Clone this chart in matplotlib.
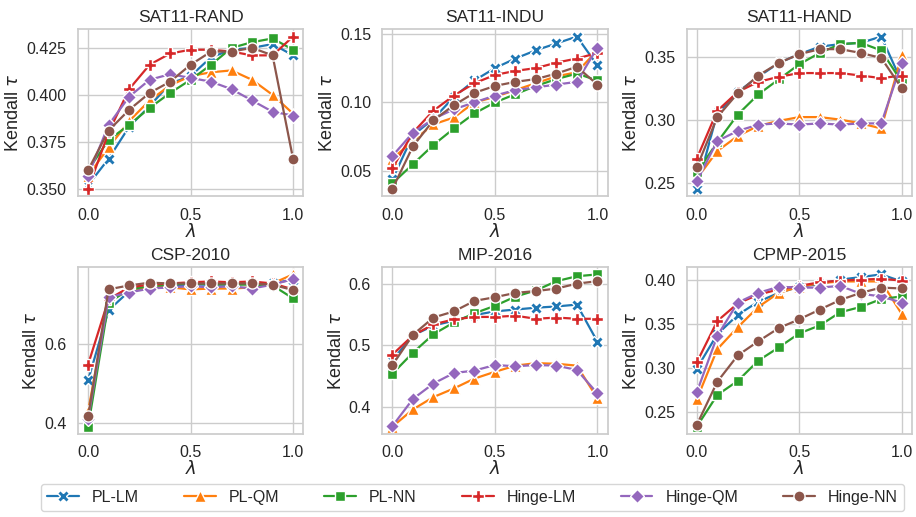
import matplotlib
matplotlib.use("Agg")
import matplotlib.pyplot as plt
import seaborn as sns

sns.set_theme(style="whitegrid", context="notebook")
plt.rcParams["font.family"] = ["Liberation Sans", "DejaVu Sans"]

LAMBDAS = [0.0, 0.1, 0.2, 0.3, 0.4, 0.5, 0.6, 0.7, 0.8, 0.9, 1.0]
METHODS = ["PL-LM", "PL-QM", "PL-NN", "Hinge-LM", "Hinge-QM", "Hinge-NN"]
SCENARIOS = ["SAT11-RAND", "SAT11-INDU", "SAT11-HAND", "CSP-2010", "MIP-2016", "CPMP-2015"]

SAT11_RAND = {
    "PL-LM":    [0.352, 0.366, 0.383, 0.394, 0.406, 0.410, 0.420, 0.424, 0.425, 0.427, 0.421],
    "PL-QM":    [0.357, 0.372, 0.386, 0.397, 0.405, 0.410, 0.412, 0.413, 0.408, 0.400, 0.390],
    "PL-NN":    [0.360, 0.376, 0.384, 0.393, 0.401, 0.408, 0.416, 0.425, 0.428, 0.430, 0.424],
    "Hinge-LM": [0.350, 0.380, 0.403, 0.416, 0.422, 0.424, 0.424, 0.423, 0.421, 0.421, 0.431],
    "Hinge-QM": [0.357, 0.384, 0.399, 0.408, 0.411, 0.409, 0.407, 0.403, 0.397, 0.391, 0.389],
    "Hinge-NN": [0.360, 0.381, 0.392, 0.401, 0.407, 0.416, 0.423, 0.423, 0.425, 0.421, 0.366],
}
SAT11_INDU = {
    "PL-LM":    [0.044, 0.076, 0.088, 0.104, 0.116, 0.125, 0.132, 0.138, 0.143, 0.148, 0.127],
    "PL-QM":    [0.059, 0.072, 0.084, 0.089, 0.100, 0.104, 0.109, 0.114, 0.119, 0.122, 0.138],
    "PL-NN":    [0.041, 0.055, 0.069, 0.081, 0.092, 0.100, 0.106, 0.112, 0.117, 0.121, 0.116],
    "Hinge-LM": [0.052, 0.078, 0.094, 0.105, 0.114, 0.120, 0.123, 0.125, 0.129, 0.132, 0.136],
    "Hinge-QM": [0.061, 0.078, 0.088, 0.095, 0.100, 0.105, 0.109, 0.111, 0.113, 0.115, 0.140],
    "Hinge-NN": [0.037, 0.068, 0.087, 0.098, 0.107, 0.112, 0.115, 0.117, 0.121, 0.126, 0.113],
}
SAT11_HAND = {
    "PL-LM":    [0.245, 0.305, 0.322, 0.334, 0.345, 0.352, 0.358, 0.360, 0.361, 0.366, 0.330],
    "PL-QM":    [0.253, 0.275, 0.287, 0.295, 0.299, 0.302, 0.302, 0.300, 0.297, 0.293, 0.351],
    "PL-NN":    [0.258, 0.282, 0.304, 0.320, 0.332, 0.344, 0.353, 0.360, 0.361, 0.355, 0.330],
    "Hinge-LM": [0.269, 0.307, 0.322, 0.330, 0.334, 0.337, 0.337, 0.337, 0.335, 0.333, 0.335],
    "Hinge-QM": [0.251, 0.283, 0.291, 0.296, 0.297, 0.296, 0.297, 0.296, 0.297, 0.297, 0.345],
    "Hinge-NN": [0.262, 0.302, 0.321, 0.335, 0.345, 0.352, 0.356, 0.356, 0.353, 0.349, 0.325],
}
CSP_2010 = {
    "PL-LM":    [0.509, 0.687, 0.735, 0.745, 0.750, 0.752, 0.752, 0.752, 0.755, 0.755, 0.765],
    "PL-QM":    [0.430, 0.710, 0.740, 0.745, 0.745, 0.740, 0.742, 0.742, 0.745, 0.755, 0.778],
    "PL-NN":    [0.391, 0.706, 0.740, 0.748, 0.752, 0.755, 0.753, 0.752, 0.752, 0.750, 0.717],
    "Hinge-LM": [0.549, 0.715, 0.745, 0.752, 0.755, 0.758, 0.760, 0.758, 0.760, 0.755, 0.740],
    "Hinge-QM": [0.410, 0.720, 0.732, 0.742, 0.745, 0.748, 0.745, 0.748, 0.742, 0.752, 0.766],
    "Hinge-NN": [0.417, 0.740, 0.750, 0.757, 0.755, 0.755, 0.755, 0.755, 0.755, 0.752, 0.738],
}
MIP_2016 = {
    "PL-LM":    [0.476, 0.516, 0.532, 0.540, 0.549, 0.555, 0.558, 0.561, 0.563, 0.566, 0.506],
    "PL-QM":    [0.368, 0.396, 0.416, 0.430, 0.446, 0.457, 0.467, 0.471, 0.470, 0.467, 0.414],
    "PL-NN":    [0.454, 0.488, 0.518, 0.537, 0.552, 0.564, 0.579, 0.589, 0.604, 0.612, 0.615],
    "Hinge-LM": [0.485, 0.516, 0.534, 0.542, 0.546, 0.546, 0.548, 0.543, 0.545, 0.543, 0.543],
    "Hinge-QM": [0.369, 0.413, 0.438, 0.455, 0.459, 0.468, 0.466, 0.468, 0.467, 0.460, 0.422],
    "Hinge-NN": [0.468, 0.517, 0.545, 0.555, 0.572, 0.578, 0.585, 0.588, 0.592, 0.600, 0.604],
}
CPMP_2015 = {
    "PL-LM":    [0.299, 0.338, 0.360, 0.375, 0.385, 0.392, 0.395, 0.400, 0.403, 0.406, 0.398],
    "PL-QM":    [0.264, 0.321, 0.346, 0.369, 0.385, 0.392, 0.396, 0.398, 0.398, 0.398, 0.361],
    "PL-NN":    [0.233, 0.269, 0.285, 0.308, 0.323, 0.339, 0.348, 0.363, 0.369, 0.378, 0.381],
    "Hinge-LM": [0.306, 0.353, 0.373, 0.383, 0.389, 0.393, 0.397, 0.399, 0.400, 0.401, 0.399],
    "Hinge-QM": [0.272, 0.336, 0.374, 0.385, 0.392, 0.391, 0.391, 0.393, 0.384, 0.381, 0.374],
    "Hinge-NN": [0.235, 0.284, 0.314, 0.330, 0.345, 0.355, 0.366, 0.377, 0.385, 0.391, 0.390],
}
SCENARIO_DATA = [SAT11_RAND, SAT11_INDU, SAT11_HAND, CSP_2010, MIP_2016, CPMP_2015]

Y_TICKS = [
    [0.350, 0.375, 0.400, 0.425],
    [0.05, 0.10, 0.15],
    [0.25, 0.30, 0.35],
    [0.4, 0.6],
    [0.4, 0.5, 0.6],
    [0.25, 0.30, 0.35, 0.40],
]
Y_FMT = ["{:.3f}", "{:.2f}", "{:.2f}", "{:.1f}", "{:.1f}", "{:.2f}"]

COLORS = dict(zip(METHODS, sns.color_palette("tab10", 6)))
MARKERS = {"PL-LM": "X", "PL-QM": "^", "PL-NN": "s",
           "Hinge-LM": "P", "Hinge-QM": "D", "Hinge-NN": "o"}
MSIZE = {"PL-LM": 8, "PL-QM": 8, "PL-NN": 7.5,
         "Hinge-LM": 8.5, "Hinge-QM": 7, "Hinge-NN": 8}

fig, axs = plt.subplots(2, 3, figsize=(9.16, 5.17), dpi=100)
fig.subplots_adjust(left=0.085, right=0.9956, top=0.944, bottom=0.16,
                    wspace=0.35, hspace=0.42)

for ax, name, data, ticks, fmt in zip(axs.flat, SCENARIOS, SCENARIO_DATA, Y_TICKS, Y_FMT):
    for m in METHODS:
        ax.plot(LAMBDAS, data[m], color=COLORS[m], marker=MARKERS[m],
                ms=MSIZE[m], mec="white", mew=1.0, lw=1.6, label=m)
    ax.set_title(name, fontsize=12.5, pad=5)
    ax.set_xlabel(r"$\lambda$", fontsize=13, labelpad=0)
    ax.set_ylabel(r"Kendall $\tau$", fontsize=13, labelpad=3)
    ax.set_xticks([0.0, 0.5, 1.0])
    ax.set_yticks(ticks)
    ax.set_yticklabels([fmt.format(t) for t in ticks])
    ax.tick_params(labelsize=11.5, pad=2)

handles, labels = axs[0, 0].get_legend_handles_labels()
fig.legend(handles, labels, loc="center", ncol=6, mode="expand",
           bbox_to_anchor=(33 / 916, 3 / 517, 879 / 916, 33 / 517),
           fontsize=11.5, frameon=True, handlelength=2.0)

fig.savefig("out.png", dpi=100)
